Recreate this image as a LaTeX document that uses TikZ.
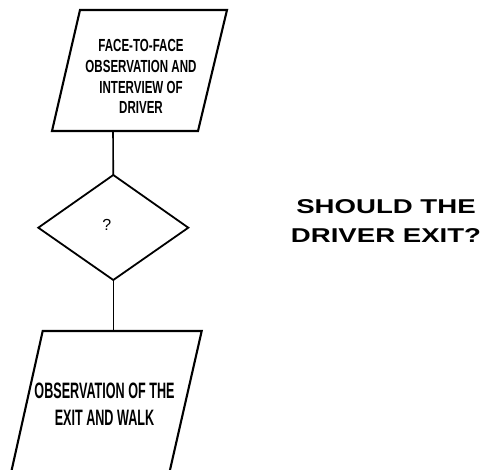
\documentclass[tikz,border=0pt]{standalone}
\usepackage{fontspec}
\setmainfont{Liberation Sans}
\newfontfamily\narrowA[FakeStretch=0.66]{Liberation Sans}
\newfontfamily\narrowB[FakeStretch=0.565]{Liberation Sans}
\newfontfamily\wideB[FakeStretch=1.38]{Liberation Sans}
\tikzset{
  boxline/.style={draw=black, line width=2.1pt, line join=miter},
  diamline/.style={draw=black, line width=1.8pt, line join=miter},
  conn/.style={draw=black, line width=1.6pt},
  txtA/.style={inner sep=0pt, align=center, font=\narrowA\bfseries\fontsize{17.5}{20.7}\selectfont},
  txtB/.style={inner sep=0pt, align=center, font=\narrowB\bfseries\fontsize{22.3}{26.7}\selectfont},
  txtC/.style={inner sep=0pt, align=center, font=\wideB\bfseries\fontsize{20}{28.7}\selectfont},
  qmark/.style={inner sep=0pt, font=\fontsize{16}{16}\selectfont}
}
\begin{document}
\begin{tikzpicture}[x=1pt,y=-1pt]
\useasboundingbox (0,0) rectangle (481,470);
\fill[white] (0,0) rectangle (481,470);
\clip (0,0) rectangle (481,470);
% top parallelogram
\coordinate (t1) at (80,10);
\coordinate (t2) at (227,10);
\coordinate (t3) at (198,131);
\coordinate (t4) at (52,131);
\coordinate (tout) at (113,131);
\draw[boxline] (t1) -- (t2) -- (t3) -- (t4) -- cycle;
\node[txtA] (toptext) at (141,76.7) {FACE-TO-FACE\\OBSERVATION AND\\INTERVIEW OF\\DRIVER};
% diamond
\coordinate (dtop) at (113.3,175);
\coordinate (dright) at (188.3,227.7);
\coordinate (dbot) at (113.3,280);
\coordinate (dleft) at (38.3,227.7);
\draw[diamline] (dtop) -- (dright) -- (dbot) -- (dleft) -- cycle;
\node[qmark] (q) at (106.7,225) {?};
% bottom parallelogram (cut by the page edge)
\coordinate (b1) at (11.0,473);
\coordinate (b2) at (42.7,331);
\coordinate (b3) at (201.7,331);
\coordinate (b4) at (169.3,473);
\coordinate (bin) at (113.3,331);
\draw[boxline] (b1) -- (b2) -- (b3) -- (b4);
\node[txtB] (bottext) at (104.5,403.9) {OBSERVATION OF THE\\EXIT AND WALK};
% connectors
\draw[conn] (tout) -- (dtop);
\draw[conn] (dbot) -- (bin);
% side question
\node[txtC] (side) at (386,220.7) {SHOULD THE\\DRIVER EXIT?};
\end{tikzpicture}
\end{document}
